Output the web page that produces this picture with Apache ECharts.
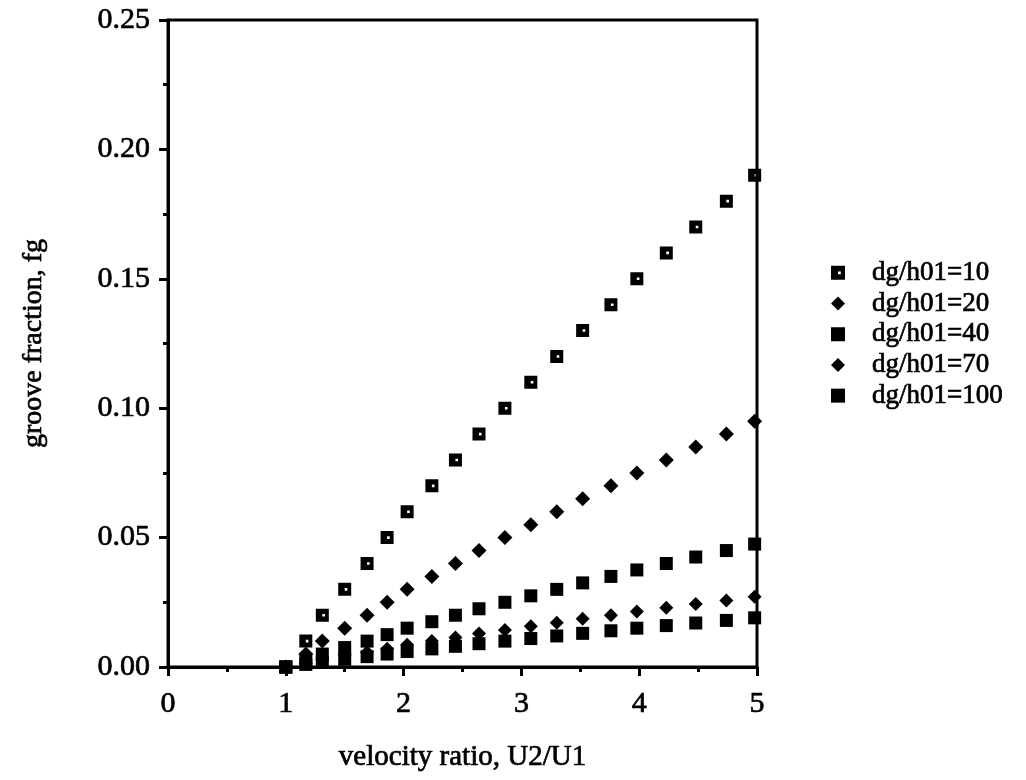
<!DOCTYPE html>
<html>
<head>
<meta charset="utf-8">
<script src="https://cdn.jsdelivr.net/npm/echarts@6/dist/echarts.min.js"></script>
<style>html,body{margin:0;padding:0;background:#fff}#c{width:1026px;height:780px}</style>
</head>
<body>
<div id="c"></div>
<script>
// shared x positions (velocity ratio U2/U1)
const velocityRatio = [1.00, 1.17, 1.31, 1.50, 1.69, 1.86, 2.03, 2.24, 2.44, 2.64, 2.86, 3.08, 3.30, 3.52, 3.76, 3.98, 4.23, 4.48, 4.74, 4.98];
const seriesNames = ['dg/h01=10', 'dg/h01=20', 'dg/h01=40', 'dg/h01=70', 'dg/h01=100'];
const fg10  = [0.000, 0.010, 0.020, 0.030, 0.040, 0.050, 0.060, 0.070, 0.080, 0.090, 0.100, 0.110, 0.120, 0.130, 0.140, 0.150, 0.160, 0.170, 0.180, 0.190];
const fg20  = [0.000, 0.005, 0.010, 0.015, 0.020, 0.025, 0.030, 0.035, 0.040, 0.045, 0.050, 0.055, 0.060, 0.065, 0.070, 0.075, 0.080, 0.085, 0.090, 0.095];
const fg40  = [0.0000, 0.0025, 0.0050, 0.0075, 0.0100, 0.0125, 0.0150, 0.0175, 0.0200, 0.0225, 0.0250, 0.0275, 0.0300, 0.0325, 0.0350, 0.0375, 0.0400, 0.0425, 0.0450, 0.0475];
const fg70  = [0.0000, 0.0014, 0.0029, 0.0043, 0.0057, 0.0071, 0.0086, 0.0100, 0.0114, 0.0129, 0.0143, 0.0157, 0.0171, 0.0186, 0.0200, 0.0214, 0.0229, 0.0243, 0.0257, 0.0271];
const fg100 = [0.000, 0.001, 0.002, 0.003, 0.004, 0.005, 0.006, 0.007, 0.008, 0.009, 0.010, 0.011, 0.012, 0.013, 0.014, 0.015, 0.016, 0.017, 0.018, 0.019];
const xTicks = ['0', '1', '2', '3', '4', '5'];
const yTicks = ['0.00', '0.05', '0.10', '0.15', '0.20', '0.25'];

const FONT = '"Liberation Serif", "Times New Roman", serif';
const holeSquare = 'path://M0,0L10,0L10,10L0,10Z M5,4L5,6L7,6L7,4Z';
const seriesData = [fg10, fg20, fg40, fg70, fg100];
const symbols = [holeSquare, 'diamond', 'rect', 'diamond', 'rect'];
const sizes = [13, 15, 13, 14, 13];
const txt = { fontFamily: FONT, color: '#000', textBorderColor: '#000', textBorderWidth: 0.7 };

const chart = echarts.init(document.getElementById('c'));
chart.setOption({
  backgroundColor: '#fff',
  animation: false,
  grid: { left: 168, right: 269, top: 20, bottom: 113, show: true, borderColor: '#000', borderWidth: 3, backgroundColor: 'transparent' },
  legend: {
    orient: 'vertical', left: 826, top: 254, itemWidth: 14, itemHeight: 14, itemGap: 3,
    textStyle: Object.assign({ fontSize: 27, padding: [0, 0, 0, 22] }, txt),
    data: seriesNames.map((n, i) => ({ name: n, icon: symbols[i] }))
  },
  xAxis: {
    type: 'value', min: 0, max: 5, interval: 1,
    name: 'velocity ratio, U2/U1', nameLocation: 'middle', nameGap: 76,
    nameTextStyle: Object.assign({ fontSize: 29 }, txt),
    axisLine: { lineStyle: { color: '#000', width: 3 } },
    axisTick: { inside: false, length: 9, lineStyle: { color: '#000', width: 3 } },
    minorTick: { show: true, splitNumber: 2, length: 5, lineStyle: { color: '#000', width: 3 } },
    splitLine: { show: false },
    axisLabel: Object.assign({ margin: 22, fontSize: 30, formatter: v => xTicks[Math.round(v)] }, txt)
  },
  yAxis: {
    type: 'value', min: 0, max: 0.25, interval: 0.05,
    name: 'groove fraction, fg', nameLocation: 'middle', nameGap: 120,
    nameTextStyle: Object.assign({ fontSize: 28 }, txt),
    axisLine: { lineStyle: { color: '#000', width: 3 } },
    axisTick: { inside: false, length: 9, lineStyle: { color: '#000', width: 3 } },
    minorTick: { show: true, splitNumber: 2, length: 5, lineStyle: { color: '#000', width: 3 } },
    splitLine: { show: false },
    axisLabel: Object.assign({ margin: 18, fontSize: 30, formatter: v => yTicks[Math.round(v / 0.05)] }, txt)
  },
  series: seriesNames.map((n, i) => ({
    name: n, type: 'scatter', symbol: symbols[i], symbolSize: sizes[i],
    itemStyle: { color: '#000', opacity: 1 },
    data: velocityRatio.map((x, j) => [x, seriesData[i][j]])
  }))
});
</script>
</body>
</html>
